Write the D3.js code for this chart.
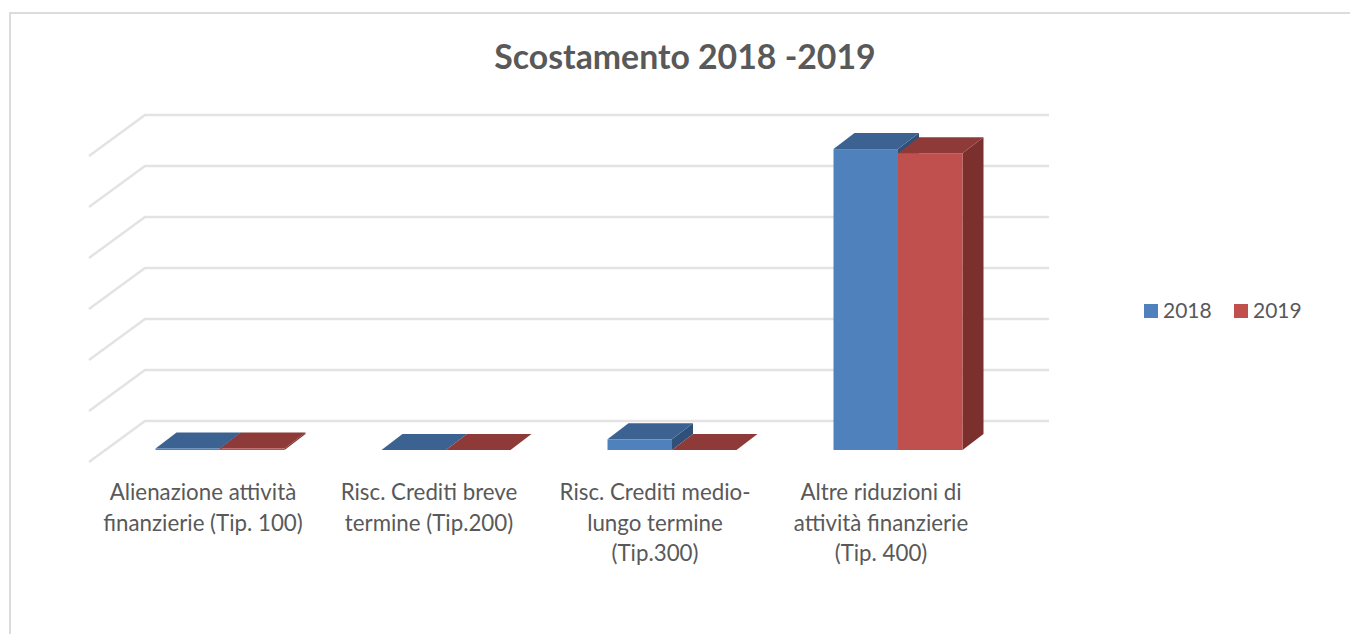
<!DOCTYPE html>
<html>
<head>
<meta charset="utf-8">
<script src="https://cdnjs.cloudflare.com/ajax/libs/d3/7.8.5/d3.min.js"></script>
<style>
    html, body { margin: 0; padding: 0; background: #fff; }
    svg { display: block; }
    text { font-family: Lato, "Open Sans", sans-serif; fill: #595959; }
</style>
</head>
<body>
<svg id="chart" width="1350" height="634"></svg>
<script>
var chartTitle = 'Scostamento 2018 -2019';
var categories = ['tip100', 'tip200', 'tip300', 'tip400'];
var categoryLabels = [
    ['Alienazione attività', 'finanzierie (Tip. 100)'],
    ['Risc. Crediti breve', 'termine (Tip.200)'],
    ['Risc. Crediti medio-', 'lungo termine', '(Tip.300)'],
    ['Altre riduzioni di', 'attività finanzierie', '(Tip. 400)']
];
var seriesNames = ['2018', '2019'];
// the original has no value labels: values are in gridline units
var values2018 = [0.03, 0, 0.21, 5.9];
var values2019 = [0.03, 0, 0, 5.82];
var seriesValues = [values2018, values2019];
var gridTicks = [0, 1, 2, 3, 4, 5, 6];

var colors = {
    '2018': { front: '#4f81bd', top: '#3c6292', side: '#2f5079' },
    '2019': { front: '#c0504d', top: '#8e3a38', side: '#7b302e' }
};

var svg = d3.select('#chart');

// 3d offsets
var wallDx = 56, wallDy = 41;
var barDx = 21, barDy = 16;

var wallLeft = 145, wallRight = 1049;
var wallBottom = 421, wallTop = 115;
var barBase = 450;

var y = d3.scaleLinear().domain([0, 6]).range([wallBottom, wallTop]);
var x0 = d3.scaleBand().domain(categories).range([107, 1011]);
var x1 = d3.scaleBand().domain(seriesNames)
    .range([x0.bandwidth() / 2 - 64.5, x0.bandwidth() / 2 + 64.5]);

// frame, open on the right and at the bottom
svg.append('path')
    .attr('d', 'M10,634V13H1350')
    .attr('fill', 'none')
    .attr('stroke', '#dcdcdc')
    .attr('stroke-width', 2);

svg.append('text')
    .attr('x', 685)
    .attr('y', 69)
    .attr('text-anchor', 'middle')
    .attr('font-size', 33.8)
    .attr('font-weight', 700)
    .text(chartTitle);

// gridlines, back wall and left side wall
svg.append('g').selectAll('path')
    .data(gridTicks)
    .join('path')
    .attr('d', function(d) {
        var yy = y(d);
        return 'M' + (wallLeft - wallDx) + ',' + (yy + wallDy) + 'L' + wallLeft + ',' + yy + 'H' + wallRight;
    })
    .attr('fill', 'none')
    .attr('stroke', '#e3e3e3')
    .attr('stroke-width', 2.5);

function barHeight(v) {
    return wallBottom - y(v);
}

// one box per value, drawn left to right so neighbours overlap properly
var bars = [];
categories.forEach(function(cat, c) {
    seriesNames.forEach(function(name, s) {
        bars.push({ cat: cat, name: name, value: seriesValues[s][c] });
    });
});

var box = svg.append('g').selectAll('g')
    .data(bars)
    .join('g');

box.append('path') // side
    .attr('fill', function(d) { return colors[d.name].side; })
    .attr('d', function(d) {
        var r = x0(d.cat) + x1(d.name) + x1.bandwidth();
        var t = barBase - barHeight(d.value);
        return 'M' + r + ',' + barBase + 'L' + (r + barDx) + ',' + (barBase - barDy) +
            'V' + (t - barDy) + 'L' + r + ',' + t + 'Z';
    });

box.append('path') // top
    .attr('fill', function(d) { return colors[d.name].top; })
    .attr('d', function(d) {
        var l = x0(d.cat) + x1(d.name);
        var r = l + x1.bandwidth();
        var t = barBase - barHeight(d.value);
        return 'M' + l + ',' + t + 'L' + (l + barDx) + ',' + (t - barDy) +
            'H' + (r + barDx) + 'L' + r + ',' + t + 'Z';
    });

box.append('rect') // front
    .attr('x', function(d) { return x0(d.cat) + x1(d.name); })
    .attr('y', function(d) { return barBase - barHeight(d.value); })
    .attr('width', x1.bandwidth())
    .attr('height', function(d) { return barHeight(d.value); })
    .attr('fill', function(d) { return colors[d.name].front; });

// category labels
var labelGroups = svg.append('g').selectAll('text')
    .data(categories)
    .join('text')
    .attr('text-anchor', 'middle')
    .attr('font-size', 22.3);

labelGroups.selectAll('tspan')
    .data(function(d, i) {
        return categoryLabels[i].map(function(t) { return { cat: d, text: t }; });
    })
    .join('tspan')
    .attr('x', function(d) { return x0(d.cat) + x0.bandwidth() / 2 - 17; })
    .attr('y', function(d, i) { return 500 + i * 30.5; })
    .text(function(d) { return d.text; });

// legend
var legendX = d3.scalePoint().domain(seriesNames).range([1144, 1234]);
var legend = svg.append('g').selectAll('g')
    .data(seriesNames)
    .join('g')
    .attr('transform', function(d) { return 'translate(' + legendX(d) + ',304)'; });

legend.append('rect')
    .attr('width', 14)
    .attr('height', 14)
    .attr('fill', function(d) { return colors[d].front; });

legend.append('text')
    .attr('x', 19)
    .attr('y', 13.5)
    .attr('font-size', 21)
    .text(function(d) { return d; });
</script>
</body>
</html>
